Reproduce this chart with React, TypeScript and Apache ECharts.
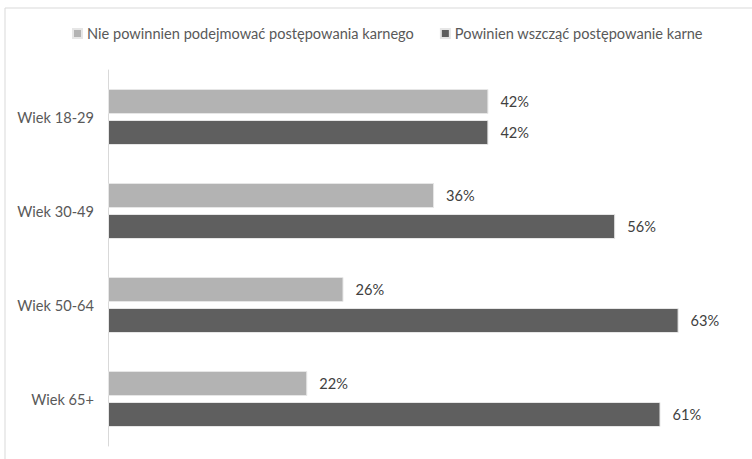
import React, { useEffect, useRef } from "react";
import * as echarts from "echarts";

const categories = ["Wiek 18-29", "Wiek 30-49", "Wiek 50-64", "Wiek 65+"];
const seriesNames = [
  "Nie powinnien podejmować postępowania karnego",
  "Powinien wszcząć postępowanie karne",
];
const notProsecute = [42, 36, 26, 22];
const prosecute = [42, 56, 63, 61];

export default function App() {
  const ref = useRef<HTMLDivElement>(null);
  useEffect(() => {
    if (!ref.current) return;
    const chart = echarts.init(ref.current, null, { renderer: "svg" });
    const font = "Lato, 'Open Sans', sans-serif";
    const label = {
      show: true,
      position: "right",
      distance: 12,
      formatter: "{c}%",
      fontFamily: font,
      fontSize: 14.6,
      color: "#404040",
    };
    chart.setOption({
      animation: false,
      backgroundColor: "#ffffff",
      graphic: [
        {
          type: "rect",
          shape: { x: 5, y: 8, width: 760, height: 470 },
          style: { fill: "none", stroke: "#d9d9d9", lineWidth: 1 },
          silent: true,
        },
      ],
      legend: {
        top: 26,
        left: 72,
        padding: 0,
        itemWidth: 9,
        itemHeight: 9,
        itemGap: 26,
        icon: "rect",
        textStyle: { fontFamily: font, fontSize: 14.6, color: "#595959" },
        data: seriesNames,
      },
      grid: { left: 108, right: 10, top: 70, height: 376, containLabel: false },
      xAxis: {
        type: "value",
        min: 0,
        max: 70,
        show: false,
      },
      yAxis: {
        type: "category",
        data: categories,
        inverse: true,
        axisLine: { show: true, lineStyle: { color: "#d9d9d9" } },
        axisTick: { show: false },
        axisLabel: {
          fontFamily: font,
          fontSize: 14.6,
          color: "#595959",
          margin: 14,
        },
      },
      series: [
        {
          name: seriesNames[0],
          type: "bar",
          data: notProsecute,
          barWidth: 25,
          barGap: "24%",
          itemStyle: { color: "#b3b3b3", borderColor: "#e6e6e6", borderWidth: 1 },
          label,
        },
        {
          name: seriesNames[1],
          type: "bar",
          data: prosecute,
          barWidth: 25,
          barGap: "24%",
          itemStyle: { color: "#5f5f5f", borderColor: "#e6e6e6", borderWidth: 1 },
          label,
        },
      ],
    });
    return () => chart.dispose();
  }, []);
  return <div ref={ref} style={{ width: 752, height: 459, position: "fixed", left: 0, top: 0 }} />;
}
